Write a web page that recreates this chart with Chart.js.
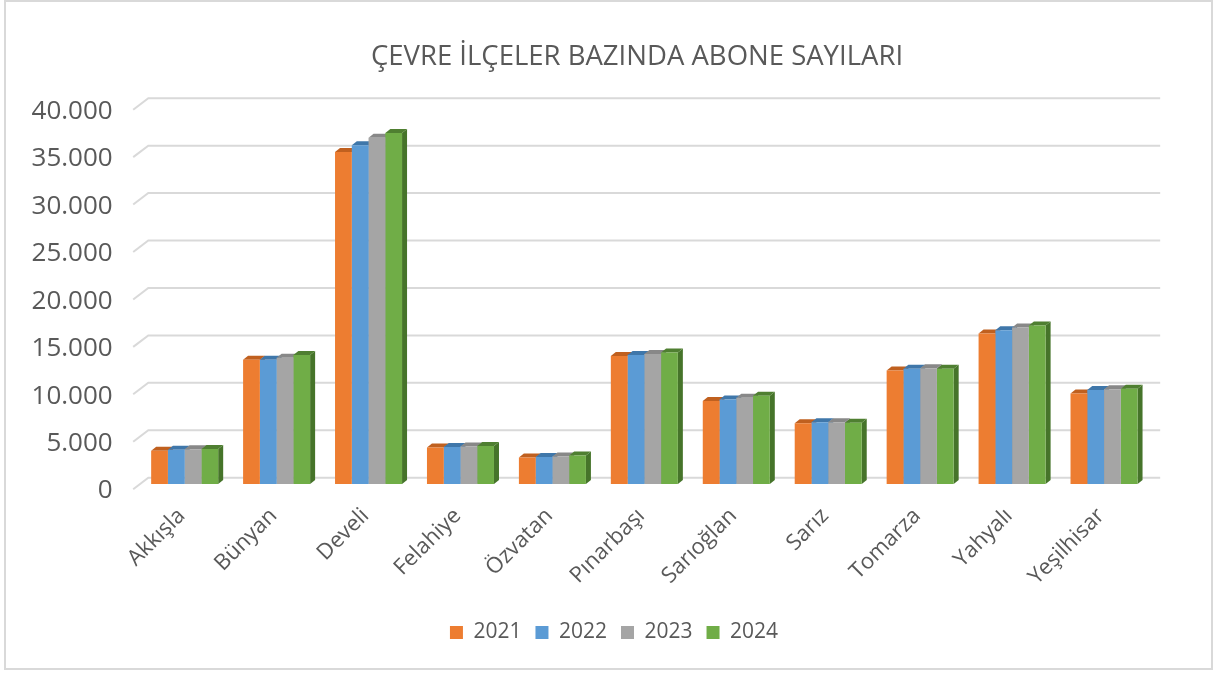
<!DOCTYPE html>
<html>
<head>
<meta charset="utf-8">
<script src="https://cdn.jsdelivr.net/npm/chart.js@4.4.1/dist/chart.umd.min.js"></script>
<style>
html,body{margin:0;padding:0;background:#fff;}
#wrap{position:absolute;left:0;top:0;width:1215px;height:675px;}
</style>
</head>
<body>
<div id="wrap"><canvas id="c" width="1215" height="675"></canvas></div>
<script>
const titleText = 'ÇEVRE İLÇELER BAZINDA ABONE SAYILARI';
const categories = ['Akkışla','Bünyan','Develi','Felahiye','Özvatan','Pınarbaşı','Sarıoğlan','Sarız','Tomarza','Yahyalı','Yeşilhisar'];
const seriesNames = ['2021','2022','2023','2024'];
const v2021 = [3500,13100,35000,3850,2800,13500,8750,6400,11950,15850,9550];
const v2022 = [3600,13100,35700,3900,2850,13600,8900,6500,12150,16200,9900];
const v2023 = [3650,13300,36500,3950,2900,13700,9100,6500,12200,16500,10000];
const v2024 = [3700,13600,37000,4000,3000,13850,9300,6450,12150,16700,10050];
const yTicks = [0,5000,10000,15000,20000,25000,30000,35000,40000];

const frontColors = ['#ED7D31','#5B9BD5','#A5A5A5','#70AD47'];
const topColors   = ['#C0601F','#3F77AA','#888888','#4F7F31'];
const sideColors  = ['#B5561A','#3A6C9C','#7E7E7E','#46742A'];

const TXT = '#595959';
const FONT = "'Open Sans', 'Noto Sans', sans-serif";
const DX = 5, DY = -4;

function fmt(v){ return String(v).replace(/\B(?=(\d{3})+(?!\d))/g, '.'); }

const wallPlugin = {
  id: 'wall',
  afterLayout(chart){
    if (chart.titleBlock) { chart.titleBlock.left += 62; chart.titleBlock.right += 62; }
    if (chart.legend) { chart.legend.left += 39; chart.legend.right += 39; }
  },
  beforeDraw(chart){
    const ctx = chart.ctx;
    ctx.save();
    ctx.fillStyle = '#fff';
    ctx.fillRect(0,0,chart.width,chart.height);
    ctx.strokeStyle = '#d9d9d9';
    ctx.lineWidth = 2;
    ctx.strokeRect(5,1,1207,668);
    ctx.restore();
  },
  beforeDatasetsDraw(chart){
    const ctx = chart.ctx, ys = chart.scales.y, area = chart.chartArea;
    ctx.save();
    ctx.strokeStyle = '#d9d9d9';
    ctx.lineWidth = 2;
    yTicks.forEach(v => {
      const y = ys.getPixelForValue(v);
      ctx.beginPath();
      ctx.moveTo(area.left - 5.5, y + 5.2);
      ctx.lineTo(area.left + 9.6, y - 6.3);
      ctx.lineTo(area.right + 10.2, y - 6.3);
      ctx.stroke();
    });
    chart.data.datasets.forEach((ds, di) => {
      const meta = chart.getDatasetMeta(di);
      meta.data.forEach(bar => {
        const x0 = bar.x - bar.width/2, x1 = bar.x + bar.width/2;
        const top = bar.y, bot = bar.base;
        ctx.fillStyle = sideColors[di];
        ctx.beginPath();
        ctx.moveTo(x1, top); ctx.lineTo(x1+DX, top+DY); ctx.lineTo(x1+DX, bot+DY); ctx.lineTo(x1, bot);
        ctx.closePath(); ctx.fill();
        ctx.fillStyle = topColors[di];
        ctx.beginPath();
        ctx.moveTo(x0, top); ctx.lineTo(x0+DX, top+DY); ctx.lineTo(x1+DX, top+DY); ctx.lineTo(x1, top);
        ctx.closePath(); ctx.fill();
      });
    });
    ctx.restore();
  }
};

const seriesValues = [v2021, v2022, v2023, v2024];
const datasets = seriesNames.map((n, i) => ({
  label: n,
  data: seriesValues[i],
  backgroundColor: frontColors[i],
  borderWidth: 0,
  categoryPercentage: 0.729,
  barPercentage: 1.0
}));

new Chart(document.getElementById('c'), {
  type: 'bar',
  data: { labels: categories, datasets },
  options: {
    responsive: false,
    animation: false,
    devicePixelRatio: 1,
    layout: { padding: { left: 0, right: 65, top: 0, bottom: 22 } },
    plugins: {
      title: {
        display: true, text: titleText, color: TXT,
        font: { family: FONT, size: 27.5, weight: 'normal' },
        padding: { top: 40.5, bottom: 31 }
      },
      legend: {
        position: 'bottom',
        labels: {
          color: TXT, font: { family: FONT, size: 21 },
          boxWidth: 13, boxHeight: 13, padding: 14
        }
      },
      tooltip: { enabled: false }
    },
    scales: {
      x: {
        grid: { display: false, drawTicks: false },
        border: { display: false },
        ticks: { color: TXT, font: { family: FONT, size: 22 }, maxRotation: 45, minRotation: 45, padding: 19, labelOffset: -3 },
        afterFit(s){ s.height = 124; }
      },
      y: {
        min: 0, max: 40000,
        afterBuildTicks(s){ s.ticks = yTicks.map(v => ({ value: v })); },
        grid: { display: false, drawTicks: false },
        border: { display: false },
        ticks: { color: TXT, font: { family: FONT, size: 26 }, padding: 26, labelOffset: 7, callback: v => fmt(v) },
        afterFit(s){ s.width = 138.7; }
      }
    }
  },
  plugins: [wallPlugin]
});
</script>
</body>
</html>
